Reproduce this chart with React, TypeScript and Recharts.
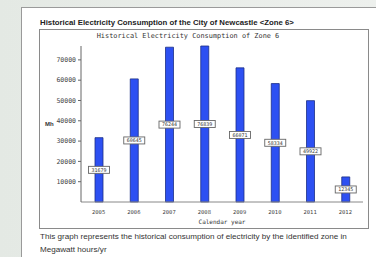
import React from 'react';
import { BarChart, Bar, XAxis, YAxis, LabelList } from 'recharts';

const years = ['2005', '2006', '2007', '2008', '2009', '2010', '2011', '2012'];
const consumption = [31679, 60645, 76244, 76839, 66071, 58334, 49922, 12345];
const yTicks = [10000, 20000, 30000, 40000, 50000, 60000, 70000];

const mainTitle = 'Historical Electricity Consumption of the City of Newcastle <Zone 6>';
const innerTitle = 'Historical Electricity Consumption of Zone 6';
const captionLines = [
  'This graph represents the historical consumption of electricity by the identified zone in',
  'Megawatt hours/yr',
];

const data = years.map((y, i) => ({ year: y, value: consumption[i] }));

const MONO = '"DejaVu Sans Mono", "Liberation Mono", monospace';
const SANS = '"Liberation Sans", Arial, sans-serif';

const ValueLabel = (props: any) => {
  const { x, y, width, height, value } = props;
  const cx = x + width / 2;
  const cy = y + height / 2;
  const w = 21;
  const h = 7;
  return (
    <g>
      <rect x={cx - w / 2} y={cy - h / 2} width={w} height={h} fill="#ffffff" stroke="#666" strokeWidth={0.9} />
      <text x={cx} y={cy + 1.8} textAnchor="middle" fontFamily={MONO} fontSize={5} fill="#333">
        {value}
      </text>
    </g>
  );
};

export default function App() {
  return (
    <div style={{ position: 'absolute', left: 0, top: 0, width: 376, height: 257, overflow: 'hidden', background: 'linear-gradient(90deg, #e4e9e4 0%, #edf0ed 100%)' }}>
      <div style={{ position: 'absolute', left: 21, top: 7, width: 360, height: 260, background: '#ffffff', borderLeft: '1.5px solid #9a9a9a', borderTop: '1.5px solid #9a9a9a' }} />
      <div style={{ position: 'absolute', left: 40, top: 18, fontFamily: SANS, fontWeight: 'bold', fontSize: 7.8, color: '#222', whiteSpace: 'nowrap' }}>
        {mainTitle}
      </div>
      <div style={{ position: 'absolute', left: 39, top: 29, width: 330, height: 200, border: '1px solid #8a8a8a', boxSizing: 'border-box', background: '#fff' }} />
      <div style={{ position: 'absolute', left: 39, top: 29 }}>
        <BarChart width={330} height={200} data={data} margin={{ top: 17, right: 6, left: 0, bottom: 0 }}>
          <text x={149} y={8.5} textAnchor="middle" fontFamily={MONO} fontSize={6.9} fill="#333">
            {innerTitle}
          </text>
          <XAxis
            dataKey="year"
            height={27}
            axisLine={{ stroke: '#888', strokeWidth: 1 }}
            tickLine={false}
            tick={{ fontFamily: MONO, fontSize: 5.5, fill: '#444' }}
            tickMargin={2}
            label={{ value: 'Calendar year', position: 'insideBottom', offset: 5, fontFamily: MONO, fontSize: 6, fill: '#333' }}
          />
          <YAxis
            width={42}
            domain={[0, 76839]}
            ticks={yTicks}
            axisLine={{ stroke: '#666', strokeWidth: 1 }}
            tickLine={{ stroke: '#666' }}
            tickSize={3}
            tick={{ fontFamily: MONO, fontSize: 6.5, fill: '#444' }}
            label={{ value: 'Mh', position: 'insideLeft', offset: 6, fontFamily: SANS, fontWeight: 'bold', fontSize: 6, fill: '#333' }}
          />
          <Bar dataKey="value" barSize={8} fill="#2d50f2" stroke="#1c2f86" strokeWidth={0.8} isAnimationActive={false}>
            <LabelList dataKey="value" content={ValueLabel} />
          </Bar>
        </BarChart>
      </div>
      <div style={{ position: 'absolute', left: 40, top: 230, fontFamily: SANS, fontSize: 8.1, color: '#333', lineHeight: '13px', whiteSpace: 'nowrap' }}>
        {captionLines.map((l, i) => (
          <div key={i}>{l}</div>
        ))}
      </div>
    </div>
  );
}
